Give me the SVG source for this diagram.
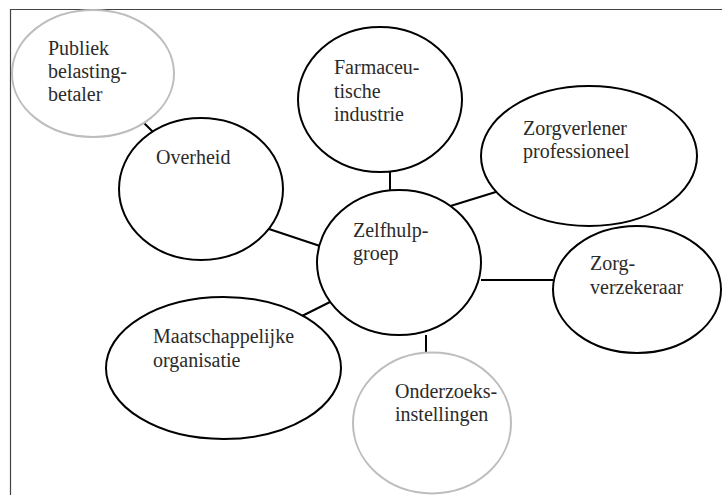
<svg xmlns="http://www.w3.org/2000/svg" width="722" height="495" viewBox="0 0 722 495">
<defs>
<ellipse id="dummy" rx="0" ry="0"/>
</defs>
<rect x="0" y="0" width="722" height="495" fill="#fff"/>
<path d="M10.5 500 V9.5 H730" fill="none" stroke="#444" stroke-width="1.2"/>
<g id="connectors" stroke="#000" stroke-width="2" fill="none">
<line x1="139" y1="118" x2="157" y2="136"/>
<line x1="390" y1="172" x2="390" y2="190"/>
<line x1="444" y1="208" x2="499" y2="191"/>
<line x1="263" y1="227" x2="320" y2="246"/>
<line x1="481" y1="280" x2="553" y2="280"/>
<line x1="300" y1="317" x2="338" y2="298"/>
<line x1="426" y1="335" x2="426" y2="353"/>
</g>
<g id="publiek">
<ellipse cx="93" cy="73.5" rx="81" ry="63.5" fill="#fff" stroke="#bdbdbd" stroke-width="2"/>
<text x="48" y="55" font-family="Liberation Serif" font-size="20" fill="#2b2b2b">Publiek</text>
<text x="48" y="78" font-family="Liberation Serif" font-size="20" fill="#2b2b2b">belasting-</text>
<text x="48" y="101" font-family="Liberation Serif" font-size="20" fill="#2b2b2b">betaler</text>
</g>
<g id="overheid">
<ellipse cx="201" cy="189" rx="82" ry="71" fill="#fff" stroke="#000" stroke-width="2"/>
<text x="156" y="164" font-family="Liberation Serif" font-size="20" fill="#2b2b2b">Overheid</text>
</g>
<g id="farmaceutische">
<ellipse cx="380" cy="99.5" rx="82" ry="72.5" fill="#fff" stroke="#000" stroke-width="2"/>
<text x="334" y="74" font-family="Liberation Serif" font-size="20" fill="#2b2b2b">Farmaceu-</text>
<text x="334" y="97.5" font-family="Liberation Serif" font-size="20" fill="#2b2b2b">tische</text>
<text x="334" y="121" font-family="Liberation Serif" font-size="20" fill="#2b2b2b">industrie</text>
</g>
<g id="zorgverlener">
<ellipse cx="589" cy="156" rx="108" ry="70" fill="#fff" stroke="#000" stroke-width="2"/>
<text x="523" y="135" font-family="Liberation Serif" font-size="20" fill="#2b2b2b">Zorgverlener</text>
<text x="523" y="158" font-family="Liberation Serif" font-size="20" fill="#2b2b2b">professioneel</text>
</g>
<g id="zelfhulpgroep">
<ellipse cx="399" cy="262.5" rx="82" ry="72.5" fill="#fff" stroke="#000" stroke-width="2"/>
<text x="353" y="237" font-family="Liberation Serif" font-size="20" fill="#2b2b2b">Zelfhulp-</text>
<text x="353" y="260" font-family="Liberation Serif" font-size="20" fill="#2b2b2b">groep</text>
</g>
<g id="zorgverzekeraar">
<ellipse cx="637" cy="289.5" rx="84" ry="63.5" fill="#fff" stroke="#000" stroke-width="2"/>
<text x="590" y="270" font-family="Liberation Serif" font-size="20" fill="#2b2b2b">Zorg-</text>
<text x="590" y="294" font-family="Liberation Serif" font-size="20" fill="#2b2b2b">verzekeraar</text>
</g>
<g id="maatschappelijke">
<ellipse cx="223.5" cy="368" rx="117.5" ry="71" fill="#fff" stroke="#000" stroke-width="2"/>
<text x="153" y="343" font-family="Liberation Serif" font-size="20" fill="#2b2b2b">Maatschappelijke</text>
<text x="153" y="367" font-family="Liberation Serif" font-size="20" fill="#2b2b2b">organisatie</text>
</g>
<g id="onderzoeks">
<ellipse cx="432" cy="423" rx="79" ry="70.5" fill="#fff" stroke="#bdbdbd" stroke-width="2"/>
<text x="395" y="398" font-family="Liberation Serif" font-size="20" fill="#2b2b2b">Onderzoeks-</text>
<text x="395" y="421" font-family="Liberation Serif" font-size="20" fill="#2b2b2b">instellingen</text>
</g>
</svg>
